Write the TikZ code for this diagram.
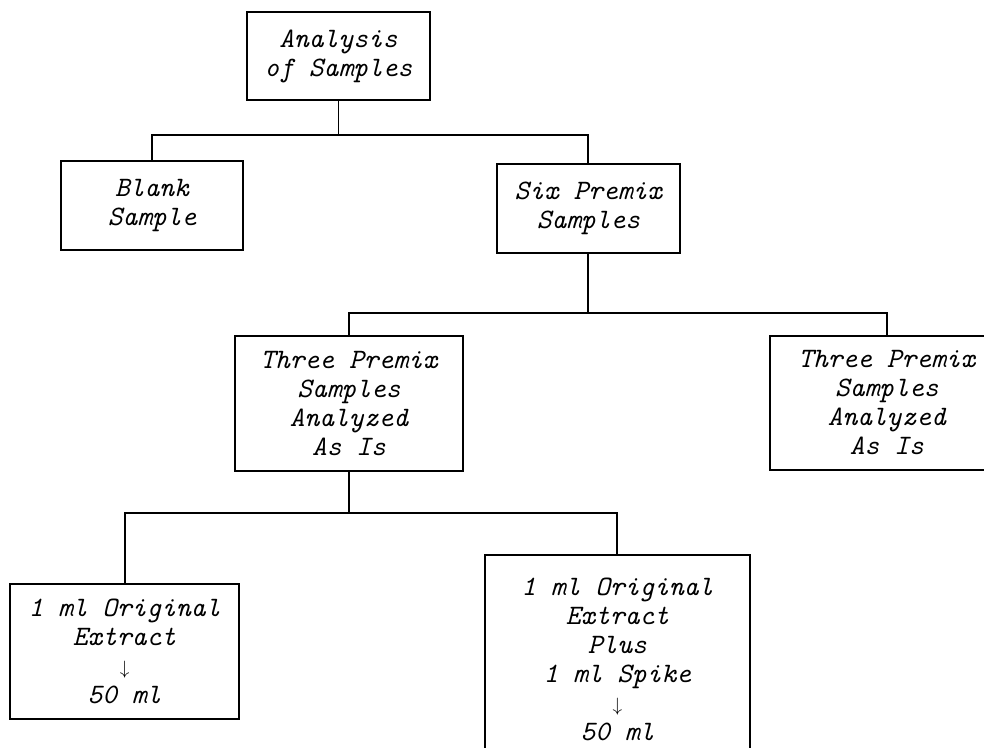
\documentclass[tikz,border=0pt]{standalone}
\usepackage{tikz}
\usetikzlibrary{positioning}

\newcommand{\dilute}{{\fontsize{11}{16.5}\selectfont$\downarrow$}}

\begin{document}
\begin{tikzpicture}[
samplebox/.style={
draw,
line width=1.1pt,
align=center,
inner sep=2pt,
font=\ttfamily\itshape\fontsize{16}{16.5}\selectfont
},
link/.style={
line width=1.1pt
}
]

\useasboundingbox (0,0) rectangle (19.68,-14.96);
\clip (0,0) rectangle (19.68,-14.96);

%%%%%%%%%%%%%%%%%%%%%%%%%%%%%%%%%%%%
% Top and Second Row
%%%%%%%%%%%%%%%%%%%%%%%%%%%%%%%%%%%%

\node[samplebox,minimum width=3.66cm,minimum height=1.76cm] (analysis) at (6.77,-1.12)
{Analysis\\of Samples};

\node[samplebox,minimum width=3.64cm,minimum height=1.78cm,below left=1.18cm and 0.04cm of analysis] (blank)
{Blank\\Sample};

\node[samplebox,minimum width=3.66cm,minimum height=1.78cm,below right=1.24cm and 1.3cm of analysis] (premix)
{Six Premix\\Samples};

%%%%%%%%%%%%%%%%%%%%%%%%%%%%%%%%%%%%
% Premix Split
%%%%%%%%%%%%%%%%%%%%%%%%%%%%%%%%%%%%

\node[samplebox,minimum width=4.56cm,minimum height=2.7cm,below left=1.62cm and 0.64cm of premix] (asis)
{Three Premix\\Samples\\Analyzed\\As Is};

\node[samplebox,minimum width=4.68cm,minimum height=2.68cm,below right=1.62cm and 1.76cm of premix] (asisb)
{Three Premix\\Samples\\Analyzed\\As Is};

%%%%%%%%%%%%%%%%%%%%%%%%%%%%%%%%%%%%
% Extracts
%%%%%%%%%%%%%%%%%%%%%%%%%%%%%%%%%%%%

\node[samplebox,minimum width=4.58cm,minimum height=2.7cm,below left=2.22cm and -0.12cm of asis] (extract)
{1 ml Original\\Extract\\\dilute\\50 ml};

\node[samplebox,minimum width=5.3cm,minimum height=4.2cm,below right=1.64cm and 0.4cm of asis] (spike)
{1 ml Original\\Extract\\Plus\\1 ml Spike\\\dilute\\50 ml};

%%%%%%%%%%%%%%%%%%%%%%%%%%%%%%%%%%%%
% Connections
%%%%%%%%%%%%%%%%%%%%%%%%%%%%%%%%%%%%

\draw[link] (analysis.south) -- ++(0,-0.68) -| (blank.north);

\draw[link] (analysis.south) -- ++(0,-0.68) -| (premix.north);

\draw[link] (premix.south) -- ++(0,-1.18) -| (asis.north);

\draw[link] (premix.south) -- ++(0,-1.18) -| (asisb.north);

\draw[link] (asis.south) -- ++(0,-0.82) -| (extract.north);

\draw[link] (asis.south) -- ++(0,-0.82) -| (spike.north);

\end{tikzpicture}
\end{document}
